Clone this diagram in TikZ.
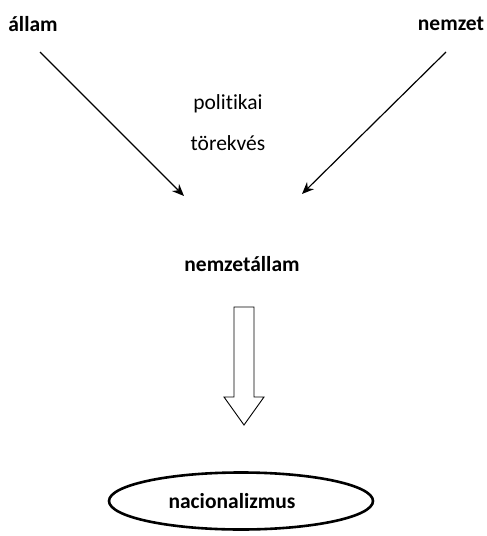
\documentclass[tikz,border=0pt]{standalone}
\usepackage{fontspec}
\setmainfont{Carlito}[Ligatures={NoCommon}]
\usetikzlibrary{arrows.meta,shapes.geometric}
\begin{document}
\begin{tikzpicture}[x=1pt,y=-1pt,
  lbl/.style={font=\fontsize{21.5}{24}\selectfont, inner sep=0pt},
  blbl/.style={lbl, font=\fontsize{21.5}{24}\selectfont\bfseries},
  feed/.style={line width=1.2pt, -{Stealth[length=12pt,width=10pt]}},
  bigarrow/.style={draw, line width=0.9pt, fill=white}]
\useasboundingbox (0,0) rectangle (487,536);
\node[blbl] (allam) at (33,24) {állam};
\node[blbl] (nemzet) at (451,24) {nemzet};
\node[lbl] (pol) at (228,104) {politikai};
\node[lbl] (tor) at (228,143) {törekvés};
\node[blbl] (nall) at (242,264) {nemzetállam};
\coordinate (a1) at (40,52);
\coordinate (a2) at (184,196);
\coordinate (b1) at (446,52);
\coordinate (b2) at (302,194);
\draw[feed] (a1) -- (a2);
\draw[feed] (b1) -- (b2);
% hollow block arrow
\draw[bigarrow] (234,307) -- (254,307) -- (254,397) -- (264,397) -- (244,425)
  -- (224,397) -- (234,397) -- cycle;
\node[ellipse, draw, line width=2.6pt, minimum width=264pt, minimum height=57pt,
  inner sep=0pt] (nac) at (241,501) {};
\node[blbl] at (232,501) {nacionalizmus};
\end{tikzpicture}
\end{document}
